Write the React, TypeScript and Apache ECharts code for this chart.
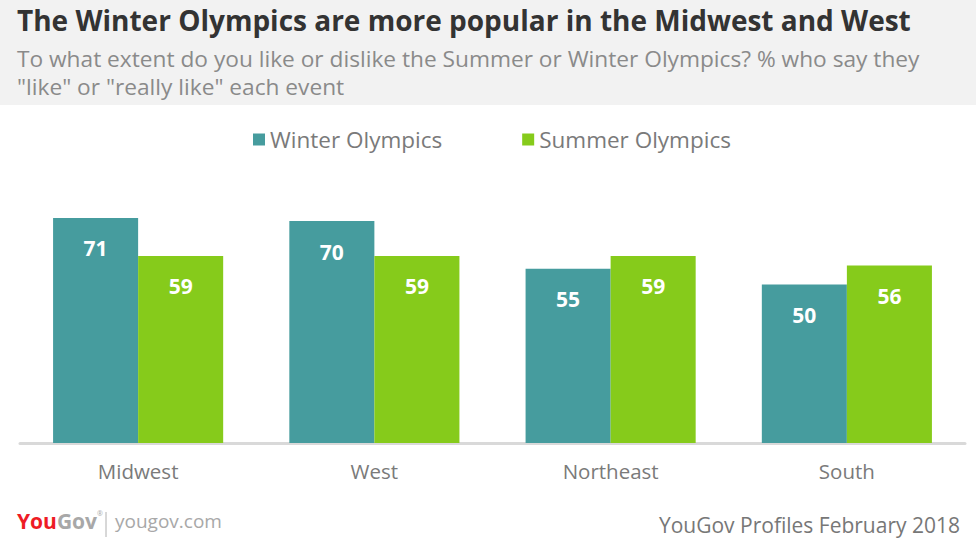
import React, { useEffect, useRef } from "react";
import * as echarts from "echarts";

const categories = ["Midwest", "West", "Northeast", "South"];
const winterValues = [71, 70, 55, 50];
const summerValues = [59, 59, 59, 56];
const seriesNames = ["Winter Olympics", "Summer Olympics"];

const TEAL = "#469c9e";
const GREEN = "#86cb1b";
const FONT = "'Open Sans', Lato, sans-serif";

export default function App() {
  const ref = useRef<HTMLDivElement>(null);
  useEffect(() => {
    document.body.style.margin = "0";
    const chart = echarts.init(ref.current!, null, { renderer: "svg" });
    const labelStyle = {
      show: true,
      position: "insideTop" as const,
      distance: 20,
      color: "#ffffff",
      fontFamily: FONT,
      fontWeight: "bold" as const,
      fontSize: 21,
    };
    chart.setOption({
      animation: false,
      backgroundColor: "#ffffff",
      textStyle: { fontFamily: FONT },
      graphic: [
        { type: "rect", left: 0, top: 0, shape: { width: 976, height: 105 }, style: { fill: "#f2f2f2" }, z: -10 },
        {
          type: "text", left: 17, top: 6,
          style: { text: "The Winter Olympics are more popular in the Midwest and West", fill: "#333333", font: `bold 28px ${FONT}` },
        },
        {
          type: "text", left: 17, top: 44,
          style: {
            text: "To what extent do you like or dislike the Summer or Winter Olympics? % who say they\n\"like\" or \"really like\" each event",
            fill: "#8a8a8a",
            font: `22.7px ${FONT}`,
            lineHeight: 28,
          },
        },
        {
          type: "text", left: 17, top: 510,
          style: {
            text: "{a|You}{b|Gov}{c|®}",
            rich: {
              a: { fill: "#ee1c25", font: `bold 21px ${FONT}` },
              b: { fill: "#a8a8a8", font: `bold 21px ${FONT}` },
              c: { fill: "#a8a8a8", font: `7px ${FONT}`, verticalAlign: "top" },
            },
          } as any,
        },
        { type: "line", shape: { x1: 106, y1: 512, x2: 106, y2: 537 }, style: { stroke: "#b0b0b0", lineWidth: 1 } },
        {
          type: "text", left: 115, top: 511,
          style: { text: "yougov.com", fill: "#a8a8a8", font: `19px ${FONT}` },
        },
        {
          type: "text", right: 16, top: 514,
          style: { text: "YouGov Profiles February 2018", fill: "#777777", font: `21px ${FONT}` },
        },
      ],
      legend: {
        data: seriesNames,
        left: 248,
        top: 123,
        icon: "rect",
        itemWidth: 12,
        itemHeight: 12,
        itemGap: 80,
        textStyle: { color: "#7a7a7a", fontSize: 22.5, fontFamily: FONT },
      },
      grid: { left: 20, right: 11, top: 126, bottom: 100 },
      xAxis: {
        type: "category",
        data: categories,
        axisLine: { lineStyle: { color: "#d9d9d9", width: 3 } },
        axisTick: { show: false },
        axisLabel: { color: "#7a7a7a", fontSize: 20.5, fontFamily: FONT, margin: 17 },
      },
      yAxis: { type: "value", min: 0, max: 100, show: false, splitLine: { show: false } },
      series: [
        {
          name: seriesNames[0], type: "bar", data: winterValues,
          itemStyle: { color: TEAL }, barGap: "0%", barCategoryGap: "28%",
          label: labelStyle,
        },
        {
          name: seriesNames[1], type: "bar", data: summerValues,
          itemStyle: { color: GREEN }, barGap: "0%", barCategoryGap: "28%",
          label: labelStyle,
        },
      ],
    });
    return () => chart.dispose();
  }, []);
  return <div ref={ref} style={{ width: 976, height: 543 }} />;
}
